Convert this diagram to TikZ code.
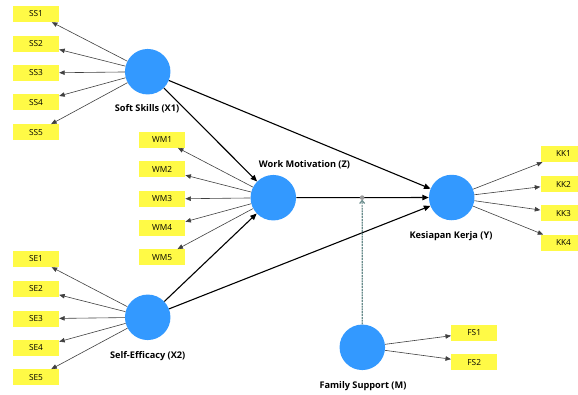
\documentclass[tikz,border=0pt]{standalone}
\usepackage{fontspec}
\setmainfont{Open Sans}
\usetikzlibrary{arrows.meta,calc}

\definecolor{lvblue}{RGB}{51,153,255}
\definecolor{indyellow}{RGB}{255,250,70}
\definecolor{modteal}{RGB}{105,140,140}

\tikzset{
  latent/.style={circle, fill=lvblue, minimum size=45.5pt, inner sep=0pt},
  indicator/.style={rectangle, fill=indyellow, minimum width=46pt, minimum height=16pt,
    inner sep=0pt, font=\fontsize{8.3}{9}\selectfont},
  lvlabel/.style={font=\bfseries\fontsize{9.2}{10}\selectfont, inner sep=0pt},
  loading/.style={draw=black!75, line width=0.6pt, -{Triangle[length=5.5pt,width=4.5pt]}},
  path/.style={draw=black, line width=1.1pt, -{Triangle[length=6.5pt,width=5.5pt]}},
  modline/.style={draw=modteal, line width=1.2pt, dash pattern=on 2pt off 0.8pt,
    -{Straight Barb[length=3pt,width=5pt]}},
}

\begin{document}
\begin{tikzpicture}[x=1pt, y=-1pt]
\useasboundingbox (0,0) rectangle (578,394);

% latent variables
\node[latent] (X1) at (147.7,71.7) {};
\node[latent] (Z)  at (273.3,197.7) {};
\node[latent] (Y)  at (451.7,197.5) {};
\node[latent] (X2) at (147.7,317.3) {};
\node[latent] (M)  at (362.3,347.3) {};

% latent variable labels
\node[lvlabel] (lX1) at (147,109) {Soft Skills (X1)};
\node[lvlabel] (lZ)  at (304.5,165) {Work Motivation (Z)};
\node[lvlabel] (lY)  at (451,236) {Kesiapan Kerja (Y)};
\node[lvlabel] (lX2) at (147.7,356) {Self-Efficacy (X2)};
\node[lvlabel] (lM)  at (363,385.7) {Family Support (M)};

% indicators of Soft Skills
\foreach \i/\y in {1/14,2/43.7,3/73,4/102.3,5/132.3}{
  \node[indicator] (SS\i) at (36,\y) {SS\i};
  \draw[loading] (X1) -- (SS\i);
}
% indicators of Work Motivation
\foreach \i/\y in {1/139.7,2/169.3,3/199,4/228,5/257.3}{
  \node[indicator] (WM\i) at (162.2,\y) {WM\i};
  \draw[loading] (Z) -- (WM\i);
}
% indicators of Self-Efficacy
\foreach \i/\y in {1/259,2/289,3/318.7,4/348,5/377.3}{
  \node[indicator] (SE\i) at (36,\y) {SE\i};
  \draw[loading] (X2) -- (SE\i);
}
% indicators of Kesiapan Kerja
\foreach \i/\y in {1/154,2/184,3/213.3,4/242.7}{
  \node[indicator] (KK\i) at (563.5,\y) {KK\i};
  \draw[loading] (Y) -- (KK\i);
}
% indicators of Family Support
\foreach \i/\y in {1/332.7,2/362.3}{
  \node[indicator] (FS\i) at (474.2,\y) {FS\i};
  \draw[loading] (M) -- (FS\i);
}

% structural paths
\draw[path] (X1) -- (Z);
\draw[path] (X1) -- (Y);
\draw[path] (X2) -- (Z);
\draw[path] (X2) -- (Y);
\draw[path] (Z) -- (Y);

% moderating effect on Z -> Y
\coordinate (mod) at ($(Z)!(M)!(Y)$);
\draw[modline, shorten >=2pt] (M) -- (mod);
\fill[black!40] (mod) circle (2.3pt);
\end{tikzpicture}
\end{document}
